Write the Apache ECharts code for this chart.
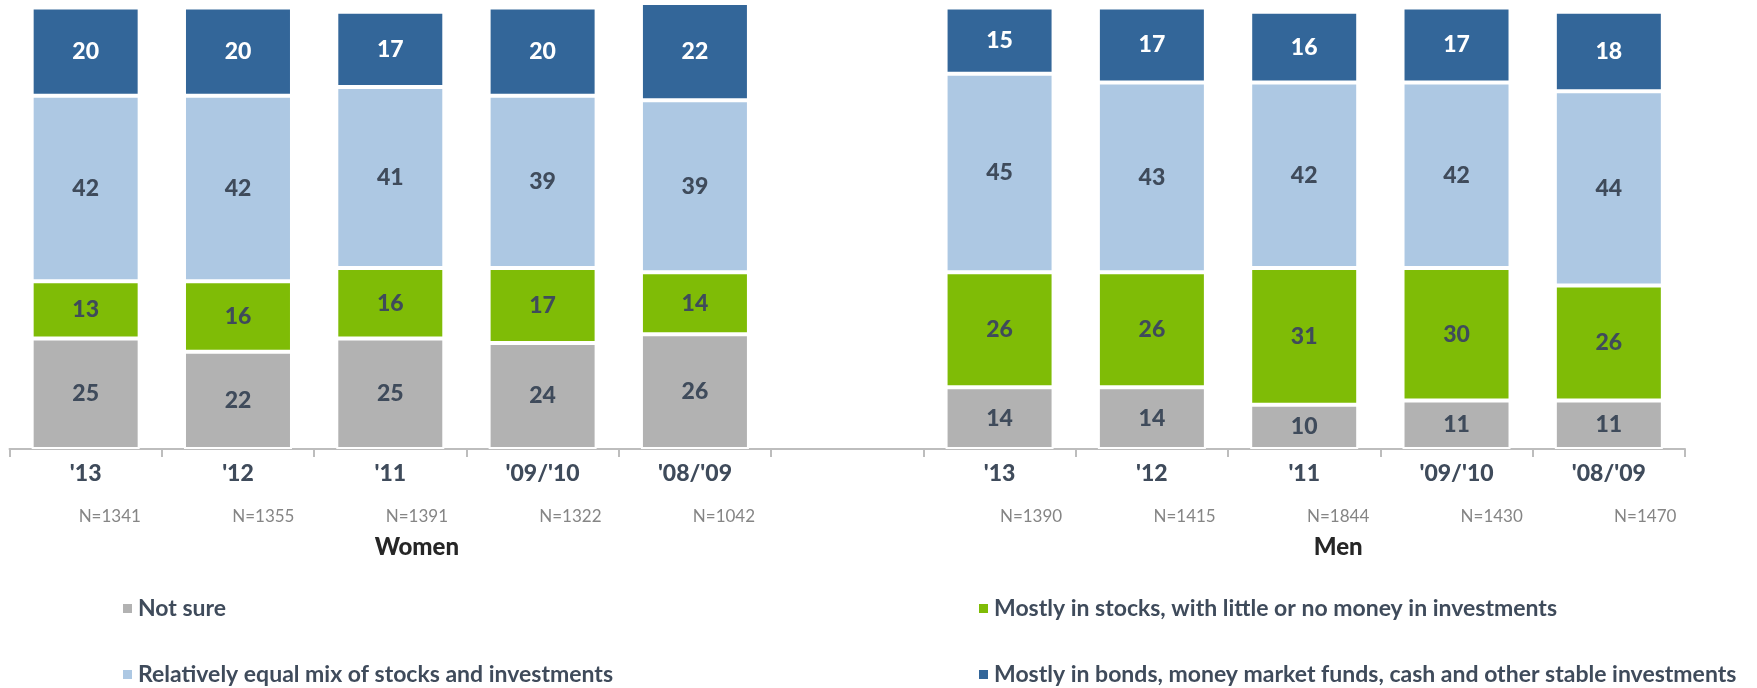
<!DOCTYPE html>
<html>
<head>
<meta charset="utf-8">
<title>Investment preference by gender</title>
<script src="https://cdn.jsdelivr.net/npm/echarts@6/dist/echarts.min.js"></script>
<style>
  html, body { margin: 0; padding: 0; background: #ffffff; }
  #chart { width: 1757px; height: 688px; }
</style>
</head>
<body>
<div id="chart"></div>
<script>
// Survey years, women first, then an empty spacer slot, then men
const categories = ["'13", "'12", "'11", "'09/'10", "'08/'09", "", "'13", "'12", "'11", "'09/'10", "'08/'09"];
const sampleSizes = ['N=1341', 'N=1355', 'N=1391', 'N=1322', 'N=1042', '', 'N=1390', 'N=1415', 'N=1844', 'N=1430', 'N=1470'];
const groupLabels = ['', '', 'Women', '', '', '', '', '', 'Men', '', ''];

// Percentages per answer (null = spacer slot)
const notSure      = [25, 22, 25, 24, 26, null, 14, 14, 10, 11, 11];
const mostlyStocks = [13, 16, 16, 17, 14, null, 26, 26, 31, 30, 26];
const equalMix     = [42, 42, 41, 39, 39, null, 45, 43, 42, 42, 44];
const mostlyBonds  = [20, 20, 17, 20, 22, null, 15, 17, 16, 17, 18];

const seriesNames = [
  'Not sure',
  'Mostly in stocks, with little or no money in investments',
  'Relatively equal mix of stocks and investments',
  'Mostly in bonds, money market funds, cash and other stable investments'
];

const FONT = 'Lato, "Open Sans", sans-serif';
const DARK = '#3f4b5b';

function stackSeries(name, values, color, labelColor) {
  return {
    name: name,
    type: 'bar',
    stack: 'total',
    xAxisIndex: 0,
    yAxisIndex: 0,
    barWidth: 108,
    data: values,
    itemStyle: { color: color, borderColor: '#ffffff', borderWidth: 2 },
    label: {
      show: true,
      position: 'inside',
      fontFamily: FONT,
      fontWeight: 900,
      fontSize: 23,
      color: labelColor
    },
    emphasis: { disabled: true }
  };
}

// One legend entry per block so each sits at its own spot
function legendItem(name, left, top) {
  return {
    data: [name],
    left: left,
    top: top,
    padding: 0,
    icon: 'rect',
    itemWidth: 11,
    itemHeight: 11,
    selectedMode: false,
    textStyle: { fontFamily: FONT, fontWeight: 'bold', fontSize: 23, color: DARK, lineHeight: 27 }
  };
}

const chart = echarts.init(document.getElementById('chart'), null, { renderer: 'canvas' });

chart.setOption({
  animation: false,
  backgroundColor: '#ffffff',
  grid: [
    { left: 9.5, right: 72, top: 3, bottom: 239 },
    { left: 33, right: 35, top: 3, bottom: 239 }
  ],
  xAxis: [
    {
      type: 'category',
      gridIndex: 0,
      data: categories,
      axisLine: { lineStyle: { color: '#bdbdbd', width: 2 } },
      axisTick: { show: true, length: 8, lineStyle: { color: '#bdbdbd', width: 2 } },
      axisLabel: {
        margin: 13,
        fontFamily: FONT,
        fontWeight: 900,
        fontSize: 23,
        color: DARK,
        interval: 0
      }
    },
    {
      type: 'category',
      gridIndex: 1,
      data: sampleSizes,
      axisLine: { show: false },
      axisTick: { show: false },
      axisLabel: {
        margin: 59,
        fontFamily: FONT,
        fontSize: 17,
        color: '#858585',
        interval: 0
      }
    },
    {
      type: 'category',
      gridIndex: 1,
      position: 'bottom',
      data: groupLabels,
      axisLine: { show: false },
      axisTick: { show: false },
      axisLabel: {
        margin: 86,
        fontFamily: FONT,
        fontWeight: 900,
        fontSize: 24,
        color: '#262626',
        interval: 0
      }
    }
  ],
  yAxis: [
    { type: 'value', gridIndex: 0, min: 0, max: 101, show: false },
    { type: 'value', gridIndex: 1, min: 0, max: 1, show: false }
  ],
  legend: [
    legendItem(seriesNames[0], 121, 595),
    legendItem(seriesNames[2], 121, 661),
    legendItem(seriesNames[1], 977, 595),
    legendItem(seriesNames[3], 977, 661)
  ],
  series: [
    stackSeries(seriesNames[0], notSure, '#b2b2b2', DARK),
    stackSeries(seriesNames[1], mostlyStocks, '#7fbc06', DARK),
    stackSeries(seriesNames[2], equalMix, '#adc8e3', DARK),
    stackSeries(seriesNames[3], mostlyBonds, '#336699', '#ffffff')
  ]
});
</script>
</body>
</html>
